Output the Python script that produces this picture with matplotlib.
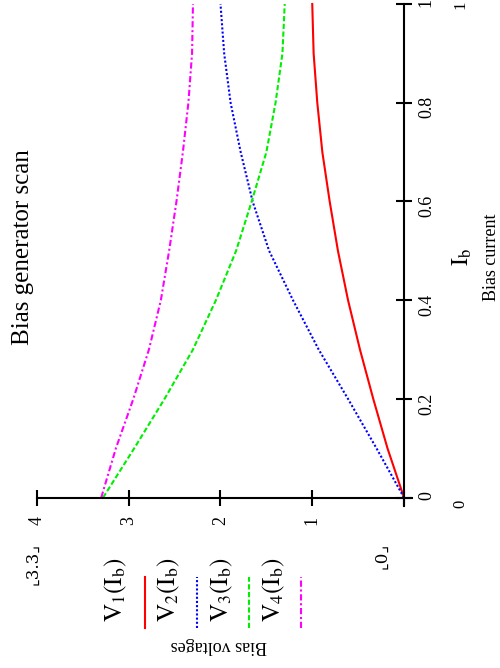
import matplotlib
matplotlib.use("Agg")
import matplotlib.pyplot as plt
from matplotlib.lines import Line2D

plt.rcParams['font.family'] = ['Liberation Serif', 'DejaVu Sans']
plt.rcParams['mathtext.fontset'] = 'stix'

# bias current
I_b = [0.0, 0.1, 0.2, 0.3, 0.4, 0.5, 0.6, 0.7, 0.8, 0.9, 1.0]
# bias voltages
V1 = [0.0, 0.18, 0.335, 0.48, 0.61, 0.72, 0.81, 0.89, 0.945, 0.985, 1.0]
V2 = [0.0, 0.30, 0.61, 0.93, 1.21, 1.47, 1.65, 1.78, 1.89, 1.96, 2.0]
V3 = [3.28, 2.94, 2.61, 2.30, 2.05, 1.83, 1.66, 1.50, 1.40, 1.325, 1.30]
V4 = [3.3, 3.14, 2.95, 2.78, 2.65, 2.56, 2.48, 2.41, 2.35, 2.31, 2.30]
series = [V1, V2, V3, V4]
names = [r'$\mathrm{V}_{1}\left(\mathrm{I}_{\mathrm{b}}\right)$',
         r'$\mathrm{V}_{2}\left(\mathrm{I}_{\mathrm{b}}\right)$',
         r'$\mathrm{V}_{3}\left(\mathrm{I}_{\mathrm{b}}\right)$',
         r'$\mathrm{V}_{4}\left(\mathrm{I}_{\mathrm{b}}\right)$']
colors = ['#ff0000', '#0000ff', '#00ee00', '#ff00ff']
styles = ['-', (0, (1, 1)), (0, (2.5, 1.2)), (0, (3, 1.3, 1, 1.3))]

v_ticks = [0, 1, 2, 3, 4]
v_labels = ['', '1', '2', '3', '4']
i_ticks = [0, 0.2, 0.4, 0.6, 0.8, 1]
i_labels = ['0', '0.2', '0.4', '0.6', '0.8', '1']

fig = plt.figure(figsize=(5, 6.68), dpi=100)
ax = fig.add_axes([0.074, 0.2425, 0.75, 0.7515])

for v, c, s in zip(series, colors, styles):
    ax.plot(v, I_b, color=c, linestyle=s, lw=1.5, clip_on=False)

ax.set_xlim(4, -0.0872)
ax.set_ylim(-0.017, 1.0)
ax.spines['top'].set_visible(False)
ax.spines['left'].set_visible(False)
ax.spines['bottom'].set_position(('data', 0))
ax.spines['right'].set_position(('data', 0))
for sp in ['bottom', 'right']:
    ax.spines[sp].set_linewidth(1.5)
ax.yaxis.tick_right()
ax.set_xticks(v_ticks)
ax.set_xticklabels(v_labels)
ax.set_yticks(i_ticks)
ax.set_yticklabels(i_labels)
ax.tick_params(axis='both', direction='inout', length=12, width=1.5,
               labelsize=13, labelrotation=90)
ax.tick_params(axis='x', pad=7)
ax.tick_params(axis='y', pad=4)

# titles / labels, rotated like the reference
fig.text(0.046, 0.63, 'Bias generator scan', rotation=90, fontsize=18,
         ha='center', va='center')
fig.text(0.924, 0.615, r'$\mathrm{I}_{\mathrm{b}}$', rotation=90, fontsize=17,
         ha='center', va='center')
fig.text(0.982, 0.615, 'Bias current', rotation=90, fontsize=13,
         ha='center', va='center')

# range markers
fig.text(0.066, 0.156, '⌞3.3⌟', rotation=90, fontsize=12, ha='center', va='center',
         family=['DejaVu Serif', 'DejaVu Sans'])
fig.text(0.764, 0.168, '⌞0⌟', rotation=90, fontsize=12, ha='center', va='center',
         family=['DejaVu Serif', 'DejaVu Sans'])
fig.text(0.92, 0.999, '1', rotation=90, fontsize=12, ha='center', va='top')
fig.text(0.92, 0.245, '0', rotation=90, fontsize=12, ha='center', va='center')

# legend, built by hand since it is rotated
lx = [0.232, 0.338, 0.443, 0.547]
sx = [0.29, 0.394, 0.498, 0.602]
for n, c, s, x0, x1 in zip(names, colors, styles, lx, sx):
    fig.text(x0, 0.117, n, rotation=90, fontsize=18, ha='center', va='center')
    fig.add_artist(Line2D([x1, x1], [0.06, 0.136], transform=fig.transFigure,
                          color=c, linestyle=s, lw=1.5))
fig.text(0.438, 0.033, 'Bias voltages', rotation=180, fontsize=13,
         ha='center', va='center')

fig.savefig('out.png', dpi=100)
